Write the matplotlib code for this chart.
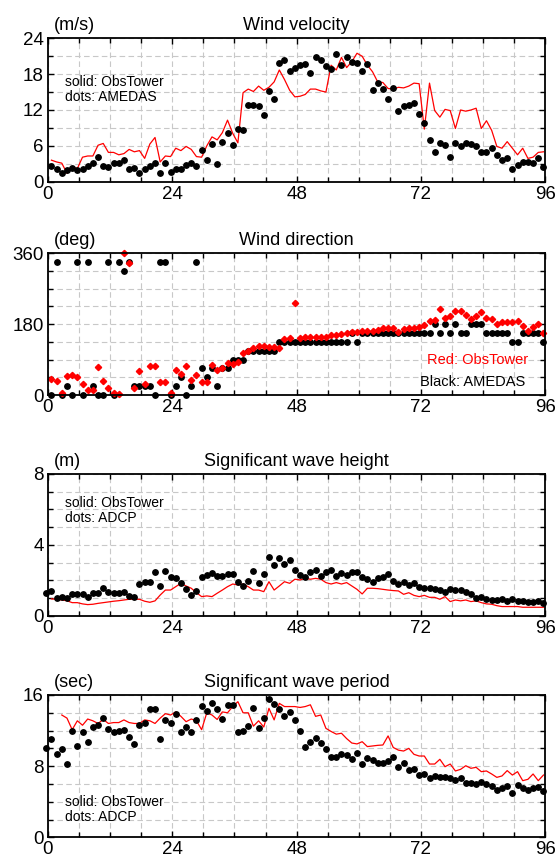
import numpy as np
import matplotlib
matplotlib.use("Agg")
import matplotlib.pyplot as plt
from matplotlib.ticker import MultipleLocator

plt.rcParams['font.family'] = ['Liberation Sans', 'DejaVu Sans']

# time axis (hours); observations are 20 min before the full hour
t_hourly = np.arange(1, 97) - 1 / 3
t_adcp = np.arange(0, 97) - 1 / 3
t_period_tower = np.arange(3, 97) - 1 / 3

# wind velocity (m/s)
wind_amedas = [2.6, 2.1, 1.4, 2.0, 2.3, 2.0, 2.1, 2.6, 3.2, 4.1,
               2.6, 2.5, 3.1, 3.1, 3.7, 2.2, 2.3, 1.4, 2.2, 2.6,
               3.1, 1.4, 3.2, 1.7, 2.1, 2.1, 2.8, 3.2, 2.6, 5.3,
               3.6, 6.3, 3.0, 6.7, 8.2, 6.1, 8.8, 8.6, 12.8, 12.8,
               12.7, 11.2, 15.2, 13.8, 19.9, 20.4, 18.6, 19.1, 19.6, 19.7,
               18.2, 20.8, 20.4, 19.3, 18.8, 21.4, 19.5, 20.8, 20.0, 19.9,
               18.5, 19.7, 15.3, 16.5, 15.5, 13.8, 15.7, 11.9, 12.6, 12.9,
               13.1, 11.3, 9.9, 7.0, 5.0, 6.4, 6.1, 4.2, 6.4, 5.9,
               6.5, 6.3, 5.9, 5.0, 4.9, 5.7, 4.4, 3.6, 3.9, 2.2,
               2.8, 3.3, 3.3, 3.2, 3.9, 2.5]
wind_tower = [3.6, 3.3, 3.1, 1.4, 2.5, 2.2, 4.1, 4.3, 4.3, 6.1,
              6.4, 4.9, 4.9, 4.5, 4.7, 5.4, 5.0, 5.2, 3.9, 6.3,
              7.4, 3.3, 4.3, 4.2, 5.6, 5.2, 5.9, 5.4, 4.2, 4.1,
              6.0, 7.5, 7.0, 8.2, 10.3, 8.1, 6.5, 14.9, 15.5, 15.1,
              16.0, 15.3, 15.8, 16.7, 18.7, 17.1, 15.3, 14.2, 14.3, 14.6,
              15.5, 15.5, 15.2, 15.0, 19.5, 18.7, 20.8, 19.1, 20.1, 21.5,
              21.0, 19.5, 18.4, 16.7, 16.6, 15.6, 15.5, 15.8, 15.7, 16.0,
              16.5, 16.4, 8.8, 16.5, 11.9, 10.8, 12.1, 11.9, 8.9, 12.0,
              11.8, 12.0, 12.3, 8.9, 10.2, 8.6, 5.9, 5.6, 6.7, 5.6,
              4.5, 5.6, 3.9, 4.1, 4.9, 5.0]

# wind direction (deg)
dir_amedas = [0, 337.5, 0, 22.5, 0, 337.5, 0, 337.5, 22.5, 0,
              0, 337.5, 0, 337.5, 315, 337.5, 22.5, 22.5, 22.5, 22.5,
              0, 337.5, 337.5, 0, 22.5, 45, 0, 22.5, 337.5, 67.5,
              45, 67.5, 22.5, 67.5, 67.5, 90, 90, 90, 112.5, 112.5,
              112.5, 112.5, 112.5, 112.5, 135, 135, 135, 135, 135, 135,
              135, 135, 135, 135, 135, 135, 135, 135, 157.5, 135,
              157.5, 157.5, 157.5, 157.5, 157.5, 157.5, 157.5, 157.5, 157.5, 157.5,
              157.5, 157.5, 157.5, 157.5, 180, 157.5, 180, 157.5, 180, 157.5,
              157.5, 180, 180, 180, 157.5, 157.5, 157.5, 157.5, 157.5, 135,
              135, 157.5, 157.5, 157.5, 157.5, 135]
dir_tower = [39.8, 36.4, 5.9, 48.3, 50.8, 46.6, 28, 12.7, 12.7, 70.3,
             36.4, 17, 6, 2.5, 360, 334.6, 17, 61.8, 28, 73.7,
             73.7, 33.9, 33.9, 5.9, 63.5, 53.4, 73.7, 38.1, 50.8, 33.9,
             33.9, 76.2, 63.5, 67.8, 80.5, 78.8, 84.7, 107.6, 111.8, 118.6,
             124.5, 124.5, 121.1, 122.8, 120.3, 141.5, 144, 233, 144, 146.5,
             146.5, 146.5, 146.5, 148, 152, 152, 155, 157, 161, 161,
             162.6, 162.6, 163.5, 165, 169, 169, 169, 161, 167, 169,
             169, 172, 178, 188, 190.6, 217.7, 194.8, 200.7, 214, 214,
             203, 192, 200.7, 211.7, 194.8, 192, 180.4, 186, 186, 186,
             189, 175, 163.5, 172, 180.4, 156.7]

# significant wave height (m)
hs_adcp = [1.28, 1.43, 1.0, 1.09, 1.03, 1.24, 1.24, 1.24, 1.09, 1.31,
           1.31, 1.56, 1.37, 1.28, 1.31, 1.37, 1.13, 1.09, 1.8, 1.93,
           1.93, 2.46, 1.69, 2.55, 2.22, 2.12, 1.84, 1.5, 1.18, 1.41,
           2.18, 2.31, 2.44, 2.25, 2.25, 2.37, 2.37, 1.93, 1.71, 1.99,
           2.55, 1.88, 2.37, 3.3, 2.87, 3.25, 2.93, 3.15, 2.59, 2.31,
           2.18, 2.5, 2.59, 2.25, 2.5, 2.59, 2.25, 2.4, 2.31, 2.46,
           2.46, 2.18, 2.07, 1.93, 2.12, 2.18, 2.37, 1.99, 1.8, 1.9,
           1.75, 1.84, 1.61, 1.56, 1.6, 1.52, 1.46, 1.37, 1.5, 1.46,
           1.46, 1.37, 1.24, 1.0, 1.09, 0.94, 0.9, 0.9, 0.94, 0.85,
           0.94, 0.86, 0.85, 0.81, 0.77, 0.86, 0.75]
hs_tower = [0.96, 0.94, 0.9, 0.86, 0.75, 0.75, 0.68, 0.64, 0.66, 0.71,
            0.75, 0.79, 0.83, 0.86, 0.9, 0.94, 0.94, 0.94, 0.83, 0.77,
            0.85, 1.18, 1.46, 1.46, 1.65, 1.84, 1.69, 1.56, 1.31, 1.09,
            1.13, 1.09, 1.28, 1.46, 1.65, 1.8, 1.75, 1.8, 1.65, 1.46,
            1.46, 1.37, 1.93, 1.46, 1.69, 1.93, 1.84, 2.07, 2.03, 2.12,
            2.07, 2.12, 2.07, 1.88, 1.8, 1.88, 1.8, 1.88, 1.69, 1.5,
            1.24, 1.56, 1.56, 1.54, 1.5, 1.46, 1.43, 1.41, 1.22, 1.31,
            1.16, 1.09, 1.16, 1.05, 1.05, 0.94, 1.09, 0.81, 0.9, 0.85,
            0.9, 0.81, 0.85, 0.75, 0.68, 0.66, 0.58, 0.53, 0.53, 0.53,
            0.53, 0.49, 0.49, 0.49, 0.49, 0.49]

# significant wave period (sec)
tp_adcp = [10.0, 11.0, 9.37, 9.9, 8.2, 12.0, 10.3, 11.8, 10.75, 12.4,
           12.6, 13.45, 12.2, 11.8, 11.9, 12.1, 11.3, 10.5, 12.6, 12.8,
           14.4, 14.4, 11.05, 13.2, 12.9, 13.9, 11.8, 12.4, 11.8, 13.2,
           14.8, 14.2, 15.1, 14.4, 13.3, 14.9, 14.9, 11.8, 11.95, 12.55,
           14.5, 12.25, 13.4, 15.5, 15.0, 14.4, 13.6, 14.05, 13.2, 12.0,
           10.1, 10.75, 11.2, 10.6, 9.9, 9.0, 9.0, 9.37, 9.2, 8.77,
           9.44, 8.2, 8.9, 8.7, 8.4, 8.4, 8.6, 9.07, 7.87, 8.4,
           7.57, 7.68, 7.0, 7.1, 6.63, 6.9, 6.82, 6.74, 6.63, 6.44,
           6.7, 6.07, 6.07, 6.0, 6.18, 6.0, 5.77, 5.32, 5.58, 5.8,
           4.95, 5.88, 5.5, 5.32, 5.58, 5.62, 5.25]
tp_tower = [13.75, 13.4, 12.1, 13.1, 12.6, 13.3, 13.1, 12.8, 13.25, 12.8,
            12.9, 12.9, 13.2, 12.9, 12.8, 12.8, 13.2, 13.1, 12.8, 13.4,
            13.9, 13.75, 14.1, 13.6, 13.0, 13.3, 13.1, 12.1, 14.0, 13.75,
            13.25, 14.1, 14.0, 14.7, 15.25, 14.0, 14.0, 12.5, 13.1, 12.4,
            14.5, 13.2, 15.06, 14.7, 14.7, 14.7, 14.6, 14.7, 14.9, 13.6,
            13.75, 12.25, 11.9, 11.6, 11.7, 11.1, 10.6, 10.5, 10.75, 10.2,
            10.27, 10.34, 10.38, 11.4, 10.1, 9.8, 9.7, 10.0, 9.33, 9.14,
            9.14, 8.24, 8.24, 8.77, 7.94, 8.24, 7.46, 7.64, 8.05, 7.76,
            7.87, 7.38, 7.46, 7.12, 6.74, 6.9, 7.5, 7.0, 7.38, 6.37,
            6.52, 7.12, 6.37, 7.0]

fig = plt.figure(figsize=(5.58, 8.61), dpi=100)

L, W = 0.086, 0.891
rects = [(L, 0.789, W, 0.1665), (L, 0.5412, W, 0.1646),
         (L, 0.2846, W, 0.1649), (L, 0.0275, W, 0.1653)]
titles = ['Wind velocity', 'Wind direction', 'Significant wave height', 'Significant wave period']
units = ['(m/s)', '(deg)', '(m)', '(sec)']
ymax = [24, 360, 8, 16]
ymaj = [6, 180, 4, 8]
ymin = [3, 45, 1, 2]

axes = []
for i in range(4):
    ax = fig.add_axes(rects[i])
    ax.set_xlim(0, 96)
    ax.set_ylim(0, ymax[i])
    ax.xaxis.set_major_locator(MultipleLocator(24))
    ax.xaxis.set_minor_locator(MultipleLocator(6))
    ax.yaxis.set_major_locator(MultipleLocator(ymaj[i]))
    ax.yaxis.set_minor_locator(MultipleLocator(ymin[i]))
    ax.grid(True, which='both', color='#c8c8c8', linestyle=(0, (5, 3)), linewidth=0.8)
    ax.set_axisbelow(True)
    ax.tick_params(which='both', direction='in', top=True, right=True,
                   width=1.0, labelsize=13.5, pad=3)
    ax.tick_params(which='major', length=4.5)
    ax.tick_params(which='minor', length=3.5)
    for s in ax.spines.values():
        s.set_linewidth(1.3)
    ax.set_title(titles[i], fontsize=13, pad=6)
    ax.text(0.012, 1.03, units[i], transform=ax.transAxes, fontsize=13,
            ha='left', va='bottom')
    axes.append(ax)

red = '#ff0000'

ax = axes[0]
ax.plot(t_hourly, wind_tower, color=red, lw=0.9)
ax.plot(t_hourly, wind_amedas, 'o', color='black', ms=3.9, clip_on=False)
ax.text(0.034, 0.697, 'solid: ObsTower', transform=ax.transAxes, fontsize=10, va='center')
ax.text(0.034, 0.59, 'dots: AMEDAS', transform=ax.transAxes, fontsize=10, va='center')

ax = axes[1]
ax.plot(t_hourly, dir_amedas, 'o', color='black', ms=3.9, clip_on=False)
ax.plot(t_hourly, dir_tower, 'D', color=red, ms=3.2, clip_on=False)
ax.text(0.966, 0.247, 'Red: ObsTower', transform=ax.transAxes, fontsize=10.5,
        color=red, ha='right', va='center')
ax.text(0.96, 0.092, 'Black: AMEDAS', transform=ax.transAxes, fontsize=10.5,
        color='black', ha='right', va='center')

ax = axes[2]
ax.plot(t_hourly, hs_tower, color=red, lw=0.9)
ax.plot(t_adcp, hs_adcp, 'o', color='black', ms=3.9, clip_on=False)
ax.text(0.034, 0.796, 'solid: ObsTower', transform=ax.transAxes, fontsize=10, va='center')
ax.text(0.034, 0.69, 'dots: ADCP', transform=ax.transAxes, fontsize=10, va='center')

ax = axes[3]
ax.plot(t_period_tower, tp_tower, color=red, lw=0.9)
ax.plot(t_adcp, tp_adcp, 'o', color='black', ms=3.9, clip_on=False)
ax.text(0.034, 0.248, 'solid: ObsTower', transform=ax.transAxes, fontsize=10, va='center')
ax.text(0.034, 0.143, 'dots: ADCP', transform=ax.transAxes, fontsize=10, va='center')

fig.savefig('out.png', dpi=100)
